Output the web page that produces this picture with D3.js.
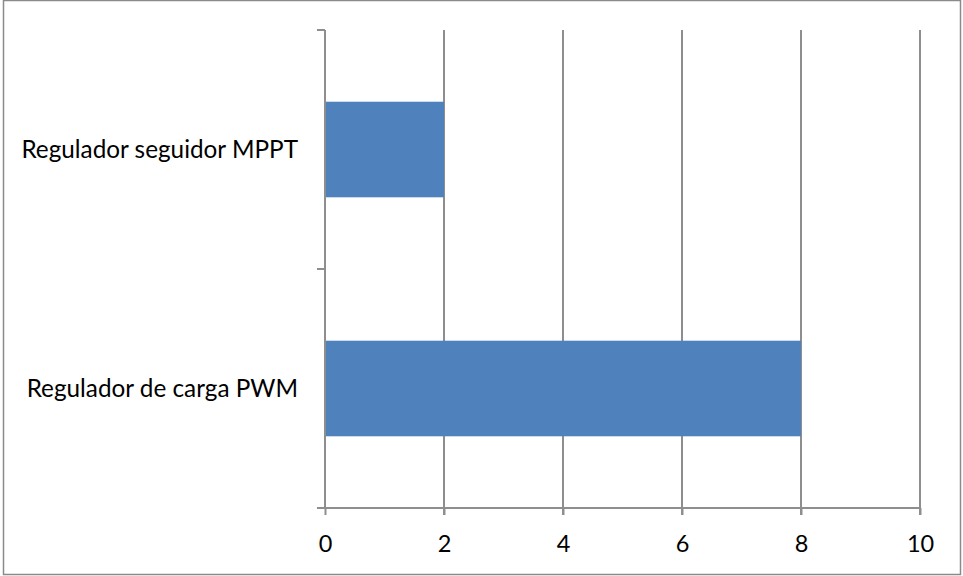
<!DOCTYPE html>
<html>
<head>
<meta charset="utf-8">
<script src="https://cdn.jsdelivr.net/npm/d3@7"></script>
<style>
  html, body { margin: 0; padding: 0; background: #fff; }
  svg { display: block; }
  text { font-family: Lato, "Open Sans", sans-serif; fill: #000; }
</style>
</head>
<body>
<script>
// Regulator types and their counts
const categories = ["Regulador seguidor MPPT", "Regulador de carga PWM"];
const values = [2, 8];
const xTicks = [0, 2, 4, 6, 8, 10];

const W = 963, H = 576;
const margin = { left: 325, right: 43, top: 30, bottom: 68 };

const svg = d3.select("body").append("svg")
  .attr("width", W).attr("height", H);

// Outer frame
svg.append("rect")
  .attr("x", 3.5).attr("y", 0.5)
  .attr("width", 957).attr("height", 574)
  .attr("fill", "#fff")
  .attr("stroke", "#8a8a8a").attr("stroke-width", 1.5);

const x = d3.scaleLinear().domain([0, 10]).range([margin.left, W - margin.right]);
const y = d3.scaleBand().domain(categories)
  .range([margin.top, H - margin.bottom])
  .paddingInner(0.6).paddingOuter(0.3);

const gridColor = "#8e8e8e";
const labelSize = 24.3;
const tickSize = 23.5;

// Vertical gridlines (value 0 is the axis line itself)
svg.append("g").selectAll("line")
  .data(xTicks.filter(d => d !== 0))
  .join("line")
  .attr("x1", d => x(d)).attr("x2", d => x(d))
  .attr("y1", margin.top).attr("y2", H - margin.bottom + 7)
  .attr("stroke", gridColor).attr("stroke-width", 2);

// Bars
svg.append("g").selectAll("rect")
  .data(categories)
  .join("rect")
  .attr("x", x(0))
  .attr("y", d => y(d))
  .attr("width", (d, i) => x(values[i]) - x(0))
  .attr("height", y.bandwidth())
  .attr("fill", "#4f81bd");

// X axis
const xAxis = d3.axisBottom(x).tickValues(xTicks).tickSize(7).tickPadding(20).tickFormat(d3.format("d"));
const gx = svg.append("g")
  .attr("transform", `translate(0,${H - margin.bottom})`)
  .call(xAxis);
gx.select(".domain").attr("stroke", gridColor).attr("stroke-width", 2)
  .attr("d", `M${x(0) - 8},0H${x(10)}`);
gx.selectAll(".tick line").attr("stroke", gridColor).attr("stroke-width", 2);
gx.selectAll(".tick text").attr("font-size", tickSize).attr("font-family", "Lato, 'Open Sans', sans-serif").attr("fill", "#000");

// Y axis with ticks on band boundaries
const yTop = margin.top, yBot = H - margin.bottom;
const boundaries = [yTop, (yTop + yBot) / 2, yBot];
const gy = svg.append("g");
gy.append("line")
  .attr("x1", x(0)).attr("x2", x(0))
  .attr("y1", yTop).attr("y2", yBot)
  .attr("stroke", gridColor).attr("stroke-width", 2);
gy.selectAll(".ytick").data(boundaries).join("line")
  .attr("class", "ytick")
  .attr("x1", x(0) - 8).attr("x2", x(0))
  .attr("y1", d => d).attr("y2", d => d)
  .attr("stroke", gridColor).attr("stroke-width", 2);

// Category labels
gy.selectAll("text").data(categories).join("text")
  .attr("x", x(0) - 27)
  .attr("y", d => y(d) + y.bandwidth() / 2)
  .attr("dy", "0.35em")
  .attr("text-anchor", "end")
  .attr("font-size", labelSize)
  .text(d => d);
</script>
</body>
</html>
